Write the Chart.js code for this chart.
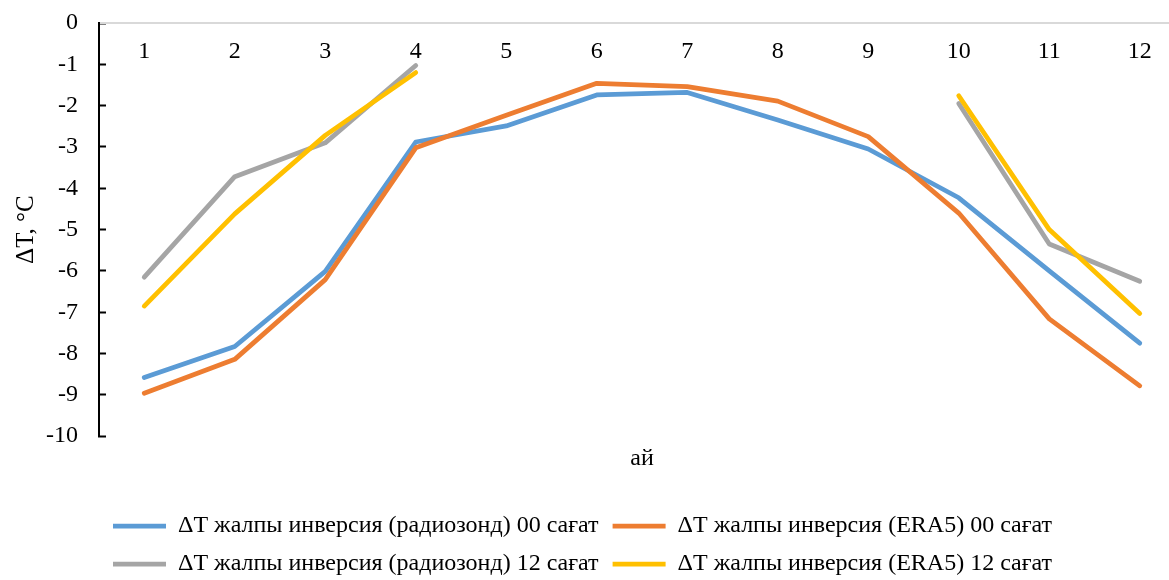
<!DOCTYPE html>
<html>
<head>
<meta charset="utf-8">
<script src="https://cdn.jsdelivr.net/npm/chart.js@4/dist/chart.umd.min.js"></script>
<style>
html, body { margin: 0; padding: 0; background: #fff; width: 1169px; height: 580px; overflow: hidden; }
#wrap { position: relative; width: 1185px; height: 580px; }
</style>
</head>
<body>
<div id="wrap"><canvas id="c"></canvas></div>
<script>
// ---- data ----
const months = ['1', '2', '3', '4', '5', '6', '7', '8', '9', '10', '11', '12'];
const radiosonde00 = [-8.58, -7.83, -6.01, -2.88, -2.49, -1.74, -1.68, -2.35, -3.05, -4.23, -6.00, -7.75];
const era5_00      = [-8.96, -8.14, -6.21, -3.02, -2.23, -1.46, -1.54, -1.89, -2.75, -4.60, -7.16, -8.78];
const radiosonde12 = [-6.15, -3.72, -2.90, -1.03, null, null, null, null, null, -1.95, -5.35, -6.25];
const era5_12      = [-6.85, -4.62, -2.72, -1.20, null, null, null, null, null, -1.76, -5.00, -7.03];
const seriesNames = [
  'ΔT жалпы инверсия (радиозонд) 00 сағат',
  'ΔT жалпы инверсия (ERA5) 00 сағат',
  'ΔT жалпы инверсия (радиозонд) 12 сағат',
  'ΔT жалпы инверсия (ERA5) 12 сағат'
];
const seriesColors = ['#5b9bd5', '#ed7d31', '#a5a5a5', '#ffc000'];
const yAxisTitle = 'ΔT, °C';
const xAxisTitle = 'ай';
const yMin = -10, yMax = 0, yStep = 1;

Chart.defaults.font.family = '"Liberation Serif", "Times New Roman", serif';
Chart.defaults.font.size = 24;
Chart.defaults.color = '#000';

const seriesValues = [radiosonde00, era5_00, radiosonde12, era5_12];
const datasets = seriesValues.map((vals, i) => ({
  label: seriesNames[i],
  data: vals,
  borderColor: seriesColors[i],
  backgroundColor: seriesColors[i],
  borderWidth: 4.75,
  borderCapStyle: 'round',
  borderJoinStyle: 'round',
  pointRadius: 0,
  pointHoverRadius: 0,
  tension: 0,
  spanGaps: false,
  order: seriesValues.length - i,
  xAxisID: 'x',
  yAxisID: 'y'
}));

new Chart(document.getElementById('c'), {
  type: 'line',
  data: { labels: months, datasets: datasets },
  options: {
    responsive: true,
    maintainAspectRatio: false,
    animation: false,
    layout: { padding: { left: 0, right: 0, top: 0, bottom: -6 } },
    plugins: {
      tooltip: { enabled: false },
      legend: {
        position: 'bottom',
        align: 'start',
        fullSize: false,
        labels: {
          usePointStyle: true,
          pointStyle: 'line',
          pointStyleWidth: 53,
          padding: 14,
          color: '#000',
          font: { size: 24 },
          sort: (a, b) => a.datasetIndex - b.datasetIndex
        }
      }
    },
    scales: {
      x: {
        type: 'category',
        position: 'top',
        offset: true,
        grid: { display: true, drawOnChartArea: false, drawTicks: false },
        border: { display: true, color: '#d9d9d9', width: 2 },
        ticks: { mirror: true, padding: 14, maxRotation: 0, autoSkip: false, font: { size: 24 } },
        afterFit: (s) => { s.height = 23; }
      },
      x2: {
        type: 'linear',
        position: 'bottom',
        min: 0, max: 1,
        grid: { display: false, drawTicks: false },
        border: { display: false },
        ticks: { display: false },
        title: { display: true, text: xAxisTitle, font: { size: 24 }, padding: { top: 8, bottom: 27 } }
      },
      y: {
        min: yMin, max: yMax,
        ticks: { stepSize: yStep, padding: 28, font: { size: 24 } },
        grid: { drawOnChartArea: false, drawTicks: true, tickLength: -7, tickWidth: 2, tickColor: '#000' },
        border: { display: true, color: '#000', width: 2 },
        title: { display: true, text: yAxisTitle, font: { size: 25 }, padding: { top: 11, bottom: 0 } },
        afterFit: (s) => { s.width = 99; s.paddingTop = 14; s.paddingBottom = 14; }
      }
    }
  }
});
</script>
</body>
</html>
